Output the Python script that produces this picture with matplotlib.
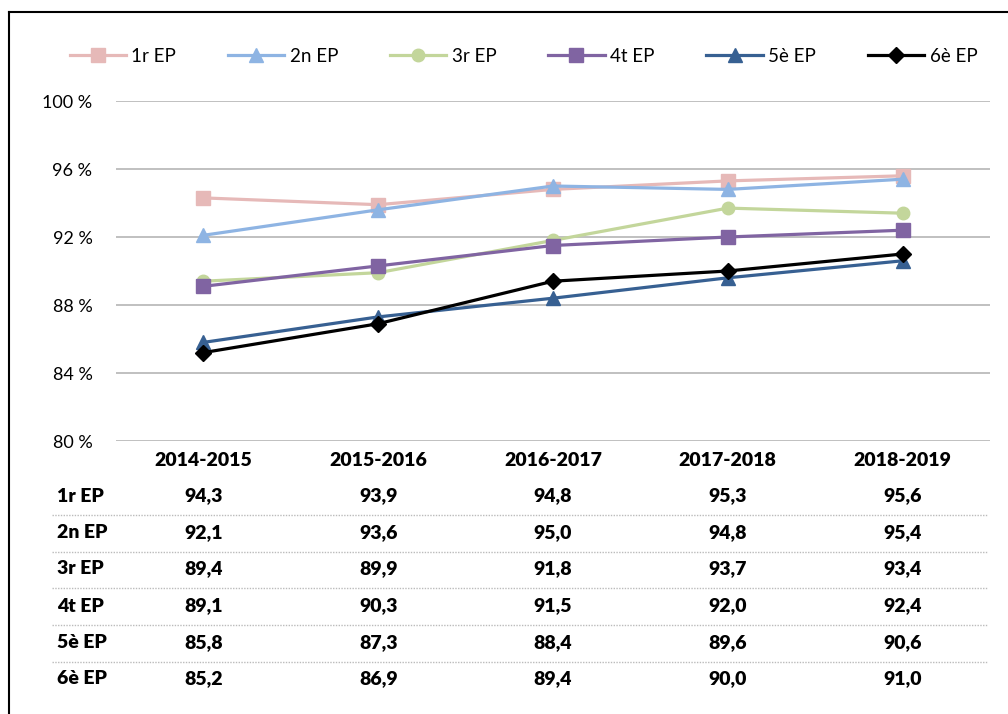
import matplotlib
matplotlib.use("Agg")
import matplotlib.pyplot as plt
from matplotlib.lines import Line2D
import matplotlib.transforms as mtransforms

plt.rcParams['font.family'] = ['Lato', 'DejaVu Sans']

years = ["2014-2015", "2015-2016", "2016-2017", "2017-2018", "2018-2019"]
labels = ["1r EP", "2n EP", "3r EP", "4t EP", "5è EP", "6è EP"]
ep1 = [94.3, 93.9, 94.8, 95.3, 95.6]
ep2 = [92.1, 93.6, 95.0, 94.8, 95.4]
ep3 = [89.4, 89.9, 91.8, 93.7, 93.4]
ep4 = [89.1, 90.3, 91.5, 92.0, 92.4]
ep5 = [85.8, 87.3, 88.4, 89.6, 90.6]
ep6 = [85.2, 86.9, 89.4, 90.0, 91.0]
series = [ep1, ep2, ep3, ep4, ep5, ep6]

colors = ["#E6B9B8", "#8EB4E3", "#C3D69B", "#8064A2", "#376092", "#000000"]
markers = ["s", "^", "o", "s", "^", "D"]
msizes = [10, 10, 9, 10, 10, 8]

W, H = 1008, 714
fig = plt.figure(figsize=(W / 100, H / 100), dpi=100)
ax = fig.add_axes([116 / W, 1 - 441 / H, (990 - 116) / W, (441 - 101) / H])

x = list(range(len(years)))
handles = []
for vals, lab, c, m, ms in zip(series, labels, colors, markers, msizes):
    h, = ax.plot(x, vals, color=c, marker=m, markersize=ms, linewidth=2.3,
                 label=lab, zorder=3)
    handles.append(h)

ax.set_xlim(-0.5, len(years) - 0.5)
ax.set_ylim(80, 100)
ax.set_yticks(range(80, 101, 4))
ax.set_yticklabels([f"{v} %" for v in range(80, 101, 4)], fontsize=13)
ax.set_xticks([])
ax.tick_params(axis='y', length=0, pad=17)
ax.grid(axis='y', color="#C0C0C0", linewidth=1.4)
ax.set_axisbelow(True)
for s in ax.spines.values():
    s.set_visible(False)

fig.legend(handles=handles, loc="lower left", ncol=6, mode="expand",
           bbox_to_anchor=(62 / W, 1 - 72 / H, (985 - 62) / W, 30 / H),
           frameon=False, fontsize=13.5, handlelength=3.0, handletextpad=0.3,
           borderaxespad=0)

# data table under the chart
trans = mtransforms.blended_transform_factory(ax.transData, fig.transFigure)
ys_row = [496, 533, 569, 606, 643, 679]
fig_y = lambda py: 1 - py / H
for i, yr in enumerate(years):
    fig.text(i, fig_y(460), yr, transform=trans, ha="center", va="center",
             fontsize=14, fontweight="heavy")
for r, (lab, vals) in enumerate(zip(labels, series)):
    fig.text(57 / W, fig_y(ys_row[r]), lab, ha="left", va="center",
             fontsize=14, fontweight="heavy")
    for i, v in enumerate(vals):
        fig.text(i, fig_y(ys_row[r]), f"{v:.1f}".replace(".", ","),
                 transform=trans, ha="center", va="center",
                 fontsize=14, fontweight="heavy")
for py in [515, 552, 588, 625, 662]:
    fig.add_artist(Line2D([52 / W, 988 / W], [fig_y(py), fig_y(py)],
                          transform=fig.transFigure, color="#BBBBBB",
                          linewidth=1, linestyle=(0, (1, 1))))

# outer frame (top and left edges)
fig.add_artist(Line2D([9 / W, 9 / W], [0, fig_y(12)], transform=fig.transFigure,
                      color="black", linewidth=1.5))
fig.add_artist(Line2D([9 / W, 1], [fig_y(12), fig_y(12)], transform=fig.transFigure,
                      color="black", linewidth=1.5))

fig.savefig("out.png", dpi=100)
